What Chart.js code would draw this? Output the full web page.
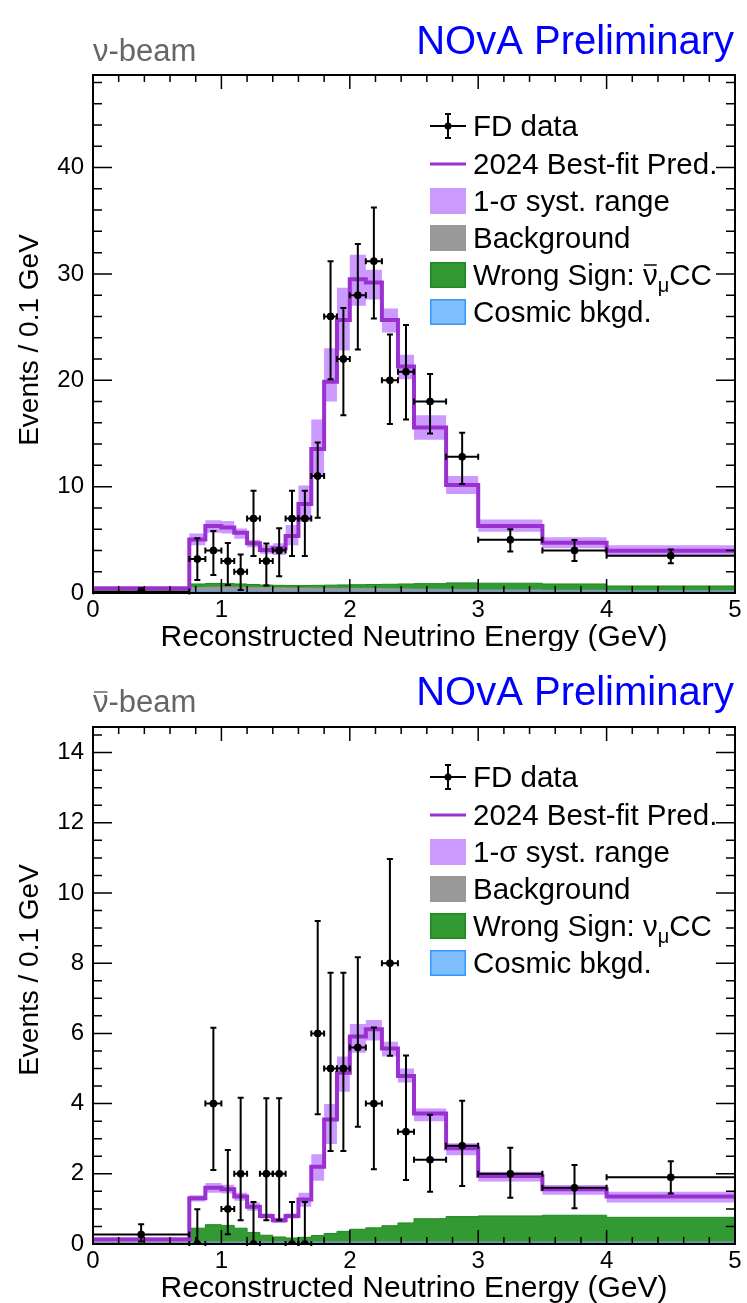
<!DOCTYPE html>
<html>
<head>
<meta charset="utf-8">
<script src="https://cdn.jsdelivr.net/npm/chart.js@4.4.1/dist/chart.umd.min.js"></script>
<style>
  body { margin: 0; background: #fff; }
  .caixa { position: relative; width: 747px; }
</style>
</head>
<body>
<div class="caixa" style="height:651px"><canvas id="graficoNu"></canvas></div>
<div class="caixa" style="height:652px"><canvas id="graficoAntiNu"></canvas></div>
<script>
// limites dos bins (GeV)
const limitesBins = [0, 0.75, 0.875, 1.0, 1.1, 1.2, 1.3, 1.4, 1.5, 1.6, 1.7, 1.8, 1.9, 2.0, 2.125, 2.25, 2.375, 2.5, 2.75, 3.0, 3.5, 4.0, 5.0];
const ticksX = [0, 1, 2, 3, 4, 5];

// feixe de neutrinos
const nuDados = [0.13, 3.2, 4.0, 3, 2, 7, 3, 4, 7, 7, 11, 26, 22, 28, 31.2, 20, 20.8, 18, 12.8, 5.0, 4.0, 3.5];
const nuErroBaixo = [0.02, 1.22, 1.69, 0.75, 0.28, 3.48, 0.7, 1.57, 3.48, 3.48, 7.08, 20.1, 16.7, 22.9, 25.8, 15.9, 16.3, 15.0, 10.24, 3.9, 3.0, 2.79];
const nuErroAlto = [0.44, 5.14, 5.83, 4.7, 3.63, 9.62, 4.65, 6.08, 9.62, 9.62, 14.16, 31.2, 26.8, 32.8, 36.25, 24.3, 25.2, 20.6, 15.07, 6.0, 4.98, 4.1];
const nuPred = [0.44, 5.04, 6.3, 6.15, 5.67, 4.67, 4.04, 4.2, 5.36, 8.36, 13.53, 19.86, 25.66, 29.5, 29.2, 25.66, 21.3, 15.57, 10.15, 6.3, 4.73, 3.98];
const nuBandaAlta = [0.52, 5.6, 6.85, 6.76, 6.07, 4.98, 4.5, 4.67, 6.4, 10.1, 16.3, 23.0, 28.7, 31.8, 30.4, 26.75, 22.4, 16.7, 11.0, 6.9, 5.23, 4.5];
const nuBandaBaixa = [0.36, 4.5, 5.67, 5.6, 5.1, 4.3, 3.7, 3.57, 4.5, 6.7, 10.93, 18.0, 22.8, 27.0, 27.6, 24.5, 20.1, 14.4, 9.3, 5.77, 4.2, 3.57];
const nuSinalErrado = [0.05, 0.85, 0.9, 0.9, 0.85, 0.8, 0.75, 0.72, 0.7, 0.7, 0.72, 0.74, 0.76, 0.78, 0.8, 0.82, 0.85, 0.88, 0.95, 0.92, 0.85, 0.66];
const nuFundo = [0.04, 0.5, 0.55, 0.55, 0.55, 0.5, 0.5, 0.48, 0.47, 0.46, 0.45, 0.45, 0.44, 0.43, 0.42, 0.4, 0.38, 0.35, 0.32, 0.28, 0.25, 0.2];
const nuCosmicos = [0.03, 0.12, 0.12, 0.12, 0.11, 0.11, 0.1, 0.1, 0.1, 0.1, 0.1, 0.1, 0.1, 0.1, 0.1, 0.1, 0.1, 0.1, 0.1, 0.1, 0.1, 0.1];
const nuTicksY = [0, 10, 20, 30, 40];

// feixe de antineutrinos
const abDados = [0.27, 0, 4.0, 1, 2, 0, 2, 2, 0, 0, 6, 5, 5, 5.6, 4.0, 8.0, 3.2, 2.4, 2.8, 2.0, 1.6, 1.9];
const abErroBaixo = [0.07, 0, 2.11, 0.28, 0.68, 0, 0.68, 0.68, 0, 0, 3.7, 2.65, 2.65, 3.34, 2.13, 5.36, 1.82, 1.49, 1.65, 1.32, 1.02, 1.44];
const abErroAlto = [0.56, 0.99, 6.16, 2.68, 4.17, 1.2, 4.15, 4.15, 1.2, 1.2, 9.2, 7.73, 7.73, 8.17, 6.17, 10.97, 5.37, 3.68, 4.08, 2.74, 2.25, 2.36];
const abPred = [0.13, 1.3, 1.6, 1.56, 1.35, 1.06, 0.8, 0.68, 0.8, 1.27, 2.2, 3.55, 4.88, 5.91, 6.12, 5.57, 4.79, 3.72, 2.73, 1.94, 1.56, 1.35];
const abBandaAlta = [0.19, 1.39, 1.74, 1.69, 1.46, 1.18, 0.87, 0.75, 0.87, 1.46, 2.56, 3.99, 5.34, 6.27, 6.38, 5.76, 5.0, 3.86, 2.87, 2.06, 1.68, 1.49];
const abBandaBaixa = [0.07, 1.21, 1.46, 1.44, 1.23, 0.95, 0.73, 0.6, 0.73, 1.06, 1.8, 2.85, 4.34, 5.45, 5.8, 5.34, 4.6, 3.5, 2.53, 1.78, 1.4, 1.18];
const abSinalErrado = [0.05, 0.45, 0.55, 0.53, 0.45, 0.33, 0.25, 0.2, 0.17, 0.19, 0.24, 0.3, 0.36, 0.42, 0.46, 0.52, 0.6, 0.72, 0.78, 0.8, 0.82, 0.76];
const abFundo = [0.04, 0.06, 0.06, 0.06, 0.06, 0.06, 0.06, 0.06, 0.06, 0.06, 0.06, 0.06, 0.06, 0.06, 0.06, 0.06, 0.06, 0.06, 0.06, 0.06, 0.06, 0.06];
const abCosmicos = [0.02, 0.03, 0.03, 0.03, 0.03, 0.03, 0.03, 0.03, 0.03, 0.03, 0.03, 0.03, 0.03, 0.03, 0.03, 0.03, 0.03, 0.03, 0.03, 0.03, 0.03, 0.03];
const abTicksY = [0, 2, 4, 6, 8, 10, 12, 14];

const FAMILIA = '"Liberation Sans", Arial, sans-serif';
const FONTE_LEGENDA = 29.5;
const COR_ROXO = '#9b30d0';
const COR_BANDA = '#cc99ff';
const COR_VERDE = '#339933';
const COR_CINZA = '#999999';
const COR_AZUL = '#80bfff';

Chart.defaults.font.family = FAMILIA;
Chart.defaults.color = '#000';

// histograma em degraus: um ponto por borda esquerda + a borda final
const pontosHist = (valores) => {
    const pts = valores.map((v, i) => ({x: limitesBins[i], y: v}));
    pts.push({x: limitesBins[limitesBins.length - 1], y: valores[valores.length - 1]});
    return pts;
}
const centroBin = (i) => (limitesBins[i] + limitesBins[i + 1]) / 2;

// barras de erro dos dados (horizontal = largura do bin)
const barrasDeErro = {
    id: 'barrasDeErro',
    afterDatasetsDraw(chart, args, opts) {
        const {ctx, scales: {x, y}, chartArea} = chart;
        ctx.save();
        ctx.beginPath();
        ctx.rect(chartArea.left, chartArea.top - 2, chartArea.width, chartArea.height + 4);
        ctx.clip();
        ctx.strokeStyle = '#000';
        ctx.lineWidth = 2;
        opts.valores.forEach((v, i) => {
            const x0 = x.getPixelForValue(limitesBins[i]);
            const x1 = x.getPixelForValue(limitesBins[i + 1]);
            const xc = x.getPixelForValue(centroBin(i));
            const yv = y.getPixelForValue(v);
            const ylo = y.getPixelForValue(opts.baixo[i]);
            const yhi = y.getPixelForValue(opts.alto[i]);
            ctx.beginPath();
            ctx.moveTo(x0, yv); ctx.lineTo(x1, yv);
            ctx.moveTo(x0, yv - 3); ctx.lineTo(x0, yv + 3);
            ctx.moveTo(x1, yv - 3); ctx.lineTo(x1, yv + 3);
            ctx.moveTo(xc, ylo); ctx.lineTo(xc, yhi);
            ctx.moveTo(xc - 3, yhi); ctx.lineTo(xc + 3, yhi);
            if (opts.baixo[i] > 0) {
                ctx.moveTo(xc - 3, ylo); ctx.lineTo(xc + 3, ylo);
            }
            ctx.stroke();
        });
        ctx.restore();
    }
}

const escreverNuBarra = (ctx, texto, x, y, barra, alturaBarra) => {
    ctx.fillText('ν', x, y);
    const w = ctx.measureText('ν').width;
    if (barra) {
        ctx.beginPath();
        ctx.moveTo(x + 1, y - alturaBarra);
        ctx.lineTo(x + w - 1, y - alturaBarra);
        ctx.stroke();
    }
    return x + w;
}

// moldura, ticks internos, títulos e legenda
const moldura = {
    id: 'moldura',
    afterDraw(chart, args, opts) {
        const {ctx, scales: {x, y}, chartArea: a} = chart;
        ctx.save();
        ctx.strokeStyle = '#000';
        ctx.lineWidth = 2;
        ctx.strokeRect(a.left, a.top, a.right - a.left, a.bottom - a.top);

        ctx.lineWidth = 1.5;
        ctx.beginPath();
        for (let k = 0; k <= 25; k++) {
            const px = x.getPixelForValue(k * 0.2);
            const len = k % 5 === 0 ? 14 : 7;
            ctx.moveTo(px, a.bottom); ctx.lineTo(px, a.bottom - len);
            ctx.moveTo(px, a.top); ctx.lineTo(px, a.top + len);
        }
        for (let k = 0; k * opts.passoMenor <= y.max + 1e-9; k++) {
            const py = y.getPixelForValue(k * opts.passoMenor);
            const len = k % opts.divisoes === 0 ? 19 : 9;
            ctx.moveTo(a.left, py); ctx.lineTo(a.left + len, py);
            ctx.moveTo(a.right, py); ctx.lineTo(a.right - len, py);
        }
        ctx.stroke();

        // títulos
        ctx.fillStyle = '#0000ff';
        ctx.font = `40px ${FAMILIA}`;
        ctx.textAlign = 'right';
        ctx.textBaseline = 'alphabetic';
        ctx.fillText('NOvA Preliminary', 734, 54);

        ctx.fillStyle = '#666666';
        ctx.strokeStyle = '#666666';
        ctx.lineWidth = 1.5;
        ctx.font = `31px ${FAMILIA}`;
        ctx.textAlign = 'left';
        let xt = escreverNuBarra(ctx, 'ν', 93, 61, opts.anti, 20);
        ctx.fillText('-beam', xt, 61);

        ctx.fillStyle = '#000';
        ctx.font = `30px ${FAMILIA}`;
        ctx.textAlign = 'center';
        ctx.fillText('Reconstructed Neutrino Energy (GeV)', (a.left + a.right) / 2, 646);

        ctx.save();
        ctx.translate(38, opts.centroTituloY);
        ctx.rotate(-Math.PI / 2);
        ctx.font = `28px ${FAMILIA}`;
        ctx.fillText('Events / 0.1 GeV', 0, 0);
        ctx.restore();

        // legenda
        const lx = 430, lw = 36, tx = 473;
        const linhas = [126, 164, 201, 238, 275, 312];
        ctx.textAlign = 'left';
        ctx.font = `${FONTE_LEGENDA}px ${FAMILIA}`;
        ctx.strokeStyle = '#000';
        ctx.lineWidth = 2;
        let cy = linhas[0];
        ctx.beginPath();
        ctx.moveTo(lx, cy); ctx.lineTo(lx + lw, cy);
        ctx.moveTo(lx + lw / 2, cy - 12); ctx.lineTo(lx + lw / 2, cy + 12);
        ctx.moveTo(lx + lw / 2 - 3, cy - 12); ctx.lineTo(lx + lw / 2 + 3, cy - 12);
        ctx.moveTo(lx + lw / 2 - 3, cy + 12); ctx.lineTo(lx + lw / 2 + 3, cy + 12);
        ctx.stroke();
        ctx.beginPath();
        ctx.arc(lx + lw / 2, cy, 3.5, 0, Math.PI * 2);
        ctx.fill();
        ctx.fillText('FD data', tx, cy + 10);

        cy = linhas[1];
        ctx.strokeStyle = COR_ROXO;
        ctx.lineWidth = 3;
        ctx.beginPath();
        ctx.moveTo(lx, cy); ctx.lineTo(lx + lw, cy);
        ctx.stroke();
        ctx.fillText('2024 Best-fit Pred.', tx, cy + 10);

        const caixas = [
            [COR_BANDA, COR_BANDA, '1-σ syst. range'],
            [COR_CINZA, COR_CINZA, 'Background'],
            [COR_VERDE, '#1f8a1f', null],
            [COR_AZUL, '#3399ff', 'Cosmic bkgd.']
        ];
        caixas.forEach((c, i) => {
            cy = linhas[i + 2];
            ctx.fillStyle = c[0];
            ctx.fillRect(lx, cy - 13, lw, 26);
            ctx.strokeStyle = c[1];
            ctx.lineWidth = 1.5;
            ctx.strokeRect(lx + 0.75, cy - 12.25, lw - 1.5, 24.5);
            ctx.fillStyle = '#000';
            if (c[2]) {
                ctx.fillText(c[2], tx, cy + 10);
            } else {
                let xx = tx;
                const base = cy + 10;
                ctx.fillText('Wrong Sign: ', xx, base);
                xx += ctx.measureText('Wrong Sign: ').width;
                ctx.strokeStyle = '#000';
                ctx.lineWidth = 1.5;
                xx = escreverNuBarra(ctx, 'ν', xx, base, opts.anti === false, 20);
                ctx.font = `20px ${FAMILIA}`;
                ctx.fillText('μ', xx, base + 7);
                xx += ctx.measureText('μ').width;
                ctx.font = `${FONTE_LEGENDA}px ${FAMILIA}`;
                ctx.fillText('CC', xx, base);
            }
        });
        ctx.restore();
    }
}

const criarGrafico = (canvas, d) => {
    const semBorda = 'rgba(0,0,0,0)';
    return new Chart(canvas, {
        type: 'line',
        data: {
            datasets: [
                {label: 'banda alta', data: pontosHist(d.bandaAlta), stepped: true, borderColor: semBorda, borderWidth: 0, backgroundColor: COR_BANDA, fill: '+1', pointRadius: 0, order: 6},
                {label: 'banda baixa', data: pontosHist(d.bandaBaixa), stepped: true, borderColor: semBorda, borderWidth: 0, fill: false, pointRadius: 0, order: 6},
                {label: 'Wrong Sign', data: pontosHist(d.sinalErrado), stepped: true, borderColor: '#1f8a1f', borderWidth: 1, backgroundColor: COR_VERDE, fill: 'origin', pointRadius: 0, order: 5},
                {label: 'Background', data: pontosHist(d.fundo), stepped: true, borderColor: COR_CINZA, borderWidth: 1, backgroundColor: COR_CINZA, fill: 'origin', pointRadius: 0, order: 4},
                {label: 'Cosmic bkgd.', data: pontosHist(d.cosmicos), stepped: true, borderColor: '#3399ff', borderWidth: 1, backgroundColor: COR_AZUL, fill: 'origin', pointRadius: 0, order: 3},
                {label: '2024 Best-fit Pred.', data: pontosHist(d.pred), stepped: true, borderColor: COR_ROXO, borderWidth: 4, fill: false, pointRadius: 0, order: 2},
                {type: 'scatter', label: 'FD data', data: d.dados.map((v, i) => ({x: centroBin(i), y: v})), pointRadius: 3.5, pointBackgroundColor: '#000', pointBorderColor: '#000', order: 1}
            ]
        },
        options: {
            responsive: true,
            maintainAspectRatio: false,
            animation: false,
            layout: {padding: {left: 0, right: 12, top: d.topo, bottom: 0}},
            scales: {
                x: {
                    type: 'linear', min: 0, max: 5, bounds: 'data',
                    afterBuildTicks: (s) => { s.ticks = ticksX.map(v => ({value: v})); },
                    afterFit: (s) => { s.height = d.alturaX; },
                    grid: {display: false, drawTicks: false},
                    border: {display: false},
                    ticks: {font: {size: 24}, color: '#000', padding: 3, maxRotation: 0, autoSkip: false}
                },
                y: {
                    type: 'linear', min: 0, max: d.maxY, bounds: 'data',
                    afterBuildTicks: (s) => { s.ticks = d.ticksY.map(v => ({value: v})); },
                    afterFit: (s) => { s.width = 93; },
                    grid: {display: false, drawTicks: false},
                    border: {display: false},
                    ticks: {font: {size: 24}, color: '#000', padding: 9, autoSkip: false}
                }
            },
            plugins: {
                legend: {display: false},
                tooltip: {enabled: false},
                barrasDeErro: {valores: d.dados, baixo: d.erroBaixo, alto: d.erroAlto},
                moldura: {passoMenor: d.passoMenor, divisoes: d.divisoes, anti: d.anti, centroTituloY: d.centroTituloY}
            }
        },
        plugins: [barrasDeErro, moldura]
    });
}

criarGrafico(document.getElementById('graficoNu'), {
    dados: nuDados, erroBaixo: nuErroBaixo, erroAlto: nuErroAlto,
    pred: nuPred, bandaAlta: nuBandaAlta, bandaBaixa: nuBandaBaixa,
    sinalErrado: nuSinalErrado, fundo: nuFundo, cosmicos: nuCosmicos,
    ticksY: nuTicksY, maxY: 48.7, passoMenor: 2, divisoes: 5,
    topo: 75, alturaX: 58, anti: false, centroTituloY: 340
});

criarGrafico(document.getElementById('graficoAntiNu'), {
    dados: abDados, erroBaixo: abErroBaixo, erroAlto: abErroAlto,
    pred: abPred, bandaAlta: abBandaAlta, bandaBaixa: abBandaBaixa,
    sinalErrado: abSinalErrado, fundo: abFundo, cosmicos: abCosmicos,
    ticksY: abTicksY, maxY: 14.73, passoMenor: 0.5, divisoes: 4,
    topo: 76, alturaX: 59, anti: true, centroTituloY: 319
});
</script>
</body>
</html>
